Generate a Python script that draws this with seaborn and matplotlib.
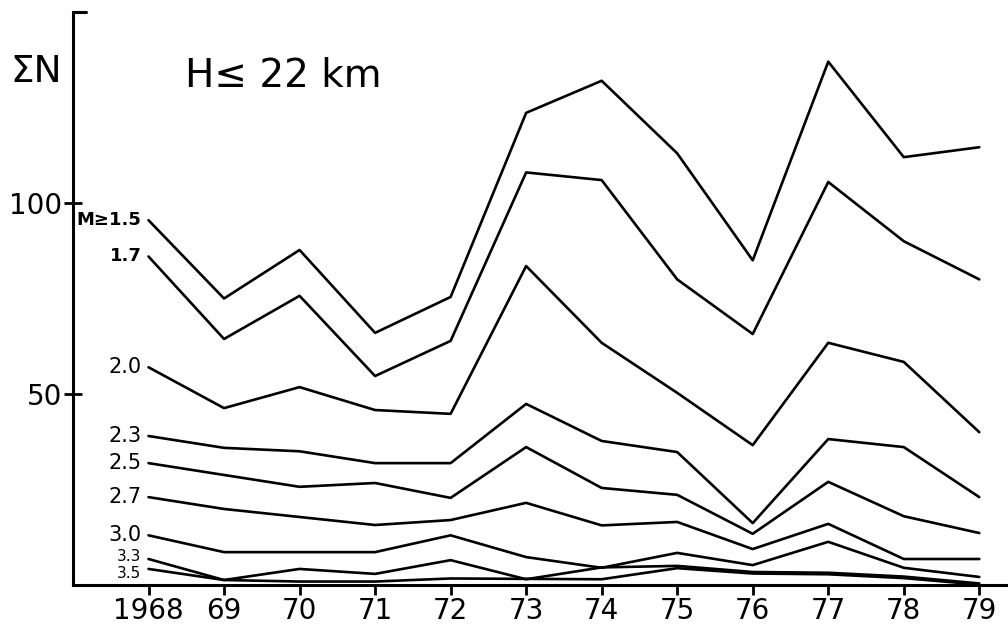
import pandas as pd
import matplotlib
matplotlib.use('Agg')
import matplotlib.pyplot as plt
import seaborn as sns

# years on the x axis and their tick labels
years = [1968, 1969, 1970, 1971, 1972, 1973, 1974, 1975, 1976, 1977, 1978, 1979]
year_labels = ['1968', '69', '70', '71', '72', '73', '74', '75', '76', '77', '78', '79']

# cumulative number of events per magnitude threshold
m15 = [95.5, 75, 87.7, 66, 75.4, 123.6, 132, 113, 85, 137, 112, 114.6]
m17 = [86, 64.4, 75.7, 54.7, 63.9, 108, 106, 80, 65.7, 105.5, 90, 80]
m20 = [57, 46.3, 51.8, 45.8, 44.8, 83.5, 63.4, 50.3, 36.6, 63.4, 58.4, 40]
m23 = [39, 35.9, 35, 31.9, 31.9, 47.4, 37.7, 34.8, 16.2, 38.2, 36.1, 23]
m25 = [31.9, 28.8, 25.7, 26.7, 22.8, 36.1, 25.4, 23.6, 13.4, 27, 18, 13.6]
m27 = [23, 19.9, 17.8, 15.7, 17, 21.5, 15.6, 16.5, 9.4, 16, 6.8, 6.8]
m30 = [13, 8.6, 8.6, 8.6, 13, 7.3, 4.5, 8.4, 5.2, 11.3, 4.5, 2.1]
m33 = [6.8, 1.3, 4.2, 2.9, 6.5, 1.5, 4.6, 5.0, 3.4, 3.2, 2.2, 0.4]
m35 = [4.2, 1.3, 0.9, 0.9, 1.7, 1.6, 1.5, 4.4, 3.0, 2.8, 1.8, 0.1]

series = {'M≥1.5': m15, '1.7': m17, '2.0': m20, '2.3': m23, '2.5': m25,
          '2.7': m27, '3.0': m30, '3.3': m33, '3.5': m35}

rows = []
for name, vals in series.items():
    for y, v in zip(years, vals):
        rows.append({'year': y, 'N': v, 'M': name})
df = pd.DataFrame(rows)

sns.set_theme(style='white')
plt.rcParams['font.family'] = ['DejaVu Sans']
plt.rcParams['text.color'] = 'black'

fig = plt.figure(figsize=(10.08, 6.32), dpi=100)
ax = fig.add_axes([0.0724, 0.0744, 0.9276, 0.9066])

sns.lineplot(data=df, x='year', y='N', hue='M', units='M', estimator=None,
             palette=['black'] * len(series), linewidth=1.9, legend=False, ax=ax)

ax.set_xlim(1967.0, 1979.38)
ax.set_ylim(0, 150)
ax.set_xticks(years)
ax.set_xticklabels(year_labels)
ax.set_yticks([50, 100])
ax.set_xlabel('')
ax.set_ylabel('')

for side in ['top', 'right']:
    ax.spines[side].set_visible(False)
for side in ['left', 'bottom']:
    ax.spines[side].set_color('black')
    ax.spines[side].set_linewidth(2.2)

ax.tick_params(axis='x', direction='out', length=7, width=2, pad=2,
               labelsize=20, colors='black', bottom=True)
ax.tick_params(axis='y', direction='inout', length=13, width=2, pad=1,
               labelsize=20, colors='black', left=True)

# small hook at the top of the y axis
ax.plot([0, 0.014], [1, 1], transform=ax.transAxes, color='black',
        linewidth=2.2, clip_on=False)

# magnitude labels at the start of each line
label_size = {'M≥1.5': 13, '1.7': 13, '3.3': 11, '3.5': 11}
label_shift = {'3.3': 2, '3.5': -3}
for name, vals in series.items():
    bold = name in ('M≥1.5', '1.7')
    ax.annotate(name, xy=(years[0], vals[0]), xytext=(-5, label_shift.get(name, 0)),
                textcoords='offset points', ha='right', va='center',
                fontsize=label_size.get(name, 15),
                fontweight='bold' if bold else 'normal', color='black')

fig.text(0.01, 0.886, 'ΣN', fontsize=27, va='center', ha='left', color='black')
fig.text(0.1835, 0.88, 'H≤ 22 km', fontsize=28, va='center', ha='left', color='black')

fig.savefig('out.png', dpi=100)
